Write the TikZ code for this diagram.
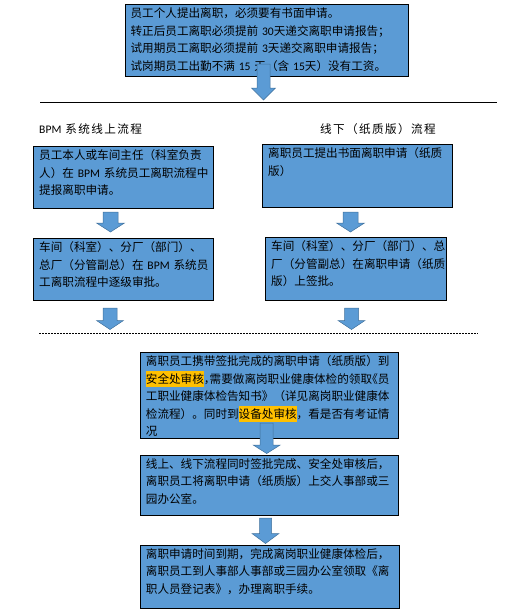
\documentclass[tikz,border=0pt]{standalone}
\usepackage{fontspec}
\setmainfont{Noto Sans CJK SC}
\newfontfamily\lat{Carlito}
\newfontfamily\spaced{Noto Sans CJK SC}[LetterSpace=12]
\usetikzlibrary{positioning}

\definecolor{boxblue}{RGB}{91,155,213}
\definecolor{arrowline}{RGB}{65,113,156}
\definecolor{hlyellow}{RGB}{255,192,0}

% highlighted words and squeezed punctuation
\newcommand{\hlt}[1]{{\setlength{\fboxsep}{0pt}\colorbox{hlyellow}{\rule[-3.5pt]{0pt}{16pt}#1}}}
\newcommand{\hwl}[1]{\makebox[0.5em][l]{#1}}
\newcommand{\hwr}[1]{\makebox[0.5em][r]{#1}}
% block arrow: centre x, top, head base, tip, shaft half width, head half width
\newcommand{\dnarr}[6]{\draw[blockarr] (#1-#5,#2) -- (#1+#5,#2) -- (#1+#5,#3) -- (#1+#6,#3) -- (#1,#4) -- (#1-#6,#3) -- (#1-#5,#3) -- cycle;}

\begin{document}
\begin{tikzpicture}[
  x=1pt, y=-1pt,
  box/.style={draw=black, line width=0.8pt, fill=boxblue, anchor=north west, inner xsep=5.5pt, inner ysep=0pt, text height=13.5pt, align=left, font=\fontsize{11.6}{17.5}\selectfont},
  title/.style={anchor=base west, inner sep=0pt, font=\spaced\fontsize{11.6}{14}\selectfont},
  blockarr/.style={fill=boxblue, draw=arrowline, line width=0.5pt}
]
  \useasboundingbox (0,0) rectangle (509,616);

  \node[box, text width=272.3pt, text depth=58.5pt] (notice) at (124.7,4) {%
    员工个人提出离职，必须要有书面申请。\\
    转正后员工离职必须提前~{\lat 30}天递交离职申请报告；\\
    试用期员工离职必须提前~{\lat 3}天递交离职申请报告；\\
    试岗期员工出勤不满~{\lat 15}~天（含~{\lat 15}天）没有工资。};
  \dnarr{263.5}{64}{88}{100}{6.5}{12}
  \draw[line width=0.8pt] (40,102) -- (497,102);

  \node[title] (onlinehead) at (39,133.4) {{\lat BPM} 系统线上流程};
  \node[title] (offlinehead) at (320,133.4) {线下（纸质版）流程};

  % online flow
  \node[box, text width=169pt, text depth=48.5pt] (onlineapply) at (33.3,146) {%
    员工本人或车间主任（科室负责\\
    人）在~{\lat BPM}~系统员工离职流程中\\
    提报离职申请。};
  \dnarr{110.5}{212}{223}{232}{7.5}{14}
  \node[box, text width=169pt, text depth=48.5pt] (onlineapprove) at (33.3,238) {%
    车间（科室）、分厂（部门）、\\
    总厂（分管副总）在~{\lat BPM}~系统员\\
    工离职流程中逐级审批。};
  \dnarr{110}{308}{320.5}{329.5}{7}{13.5}

  % paper flow
  \node[box, text width=178.4pt, text depth=49.5pt] (offlineapply) at (262.3,144) {%
    离职员工提出书面离职申请（纸质\\
    版）};
  \dnarr{350.5}{212}{223}{232}{7.5}{14}
  \node[box, text width=169.4pt, text depth=49.5pt] (offlineapprove) at (265.3,237) {%
    车间（科室）、分厂（部门）、总\\
    厂（分管副总）在离职申请（纸质\\
    版）上签批。};
  \dnarr{351.5}{308}{320.5}{329.5}{7}{13.5}

  \draw[line width=0.8pt, dash pattern=on 2pt off 1pt] (39,333.5) -- (478,333.5);

  % joint steps
  \node[box, text width=247.3pt, text depth=72.8pt] (safetycheck) at (140,352) {%
    离职员工携带签批完成的离职申请（纸质版）到\\
    \hlt{安全处审核}\hwl{，}需要做离岗职业健康体检的领取\hwr{《}员\\
    工职业健康体检告知书》（详见离岗职业健康体\\
    检流程）。同时到\hlt{设备处审核}，看是否有考证情\\
    况};
  \node[box, text width=247.3pt, text depth=47pt] (handin) at (140,454.5) {%
    线上、线下流程同时签批完成、安全处审核后，\\
    离职员工将离职申请（纸质版）上交人事部或三\\
    园办公室。};
  \dnarr{266.7}{423}{445}{453.5}{6.5}{13.5}
  \node[box, text width=248pt, text depth=50pt] (finish) at (140,544.5) {%
    离职申请时间到期，完成离岗职业健康体检后，\\
    离职员工到人事部人事部或三园办公室领取《离\\
    职人员登记表》，办理离职手续。};
  \dnarr{265.5}{518}{533.5}{543.5}{6}{13.5}
\end{tikzpicture}
\end{document}
